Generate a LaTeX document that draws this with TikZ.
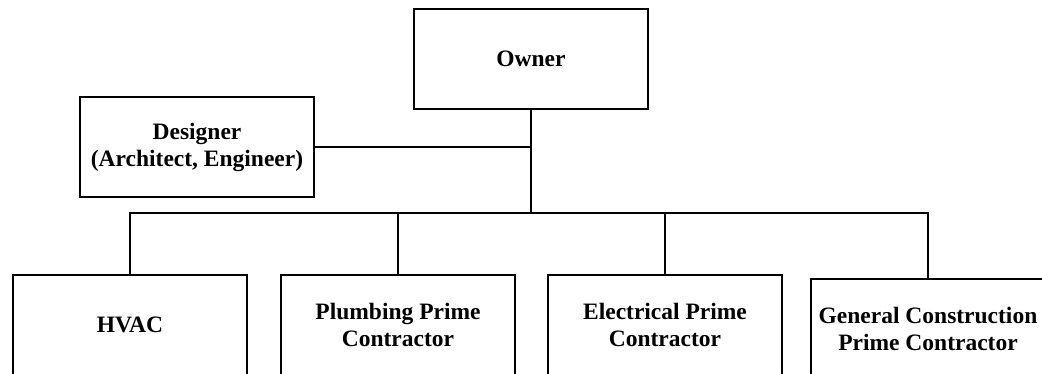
\documentclass[tikz,border=0pt]{standalone}
\usepackage{fontspec}
\setmainfont{Liberation Serif}
\usepackage{tikz}
\usetikzlibrary{positioning,calc}
\definecolor{inkC}{HTML}{000000}
\tikzset{
  orgBox/.style={draw=inkC,line width=2.2pt,fill=white,
                 minimum width=234pt,minimum height=100pt,inner sep=2pt,
                 font=\fontsize{23.5}{27}\selectfont\bfseries,text=inkC,
                 align=center},
  orgline/.style={line width=2.2pt,inkC,line cap=rect},
}

\begin{document}
\begin{tikzpicture}[x=1pt,y=-1pt]
\useasboundingbox (0,0) rectangle (1042,373);

% Top level: owner and its designer.
\node[orgBox] (owner)    at (531,59)  {Owner};
\node[orgBox] (designer) at (197,147) {Designer\\ (Architect, Engineer)};

% Prime contractors, cut at the lower edge.
\node[orgBox] (hvac)     at (130,325) {HVAC};
\node[orgBox] (plumbing) at (398,325) {Plumbing Prime\\ Contractor};
\node[orgBox] (electric) at (665,325) {Electrical Prime\\ Contractor};
\node[orgBox] (general)  at (928,329) {General Construction\\ Prime Contractor};

\coordinate (bus) at (531,213);
\draw[orgline] (owner.south) -- (bus);
\draw[orgline] (designer.east) -- (designer.east -| owner.south);
\draw[orgline] (hvac.north) |- (bus);
\draw[orgline] (plumbing.north) |- (bus);
\draw[orgline] (electric.north) |- (bus);
\draw[orgline] (general.north) |- (bus);

\end{tikzpicture}
\end{document}
